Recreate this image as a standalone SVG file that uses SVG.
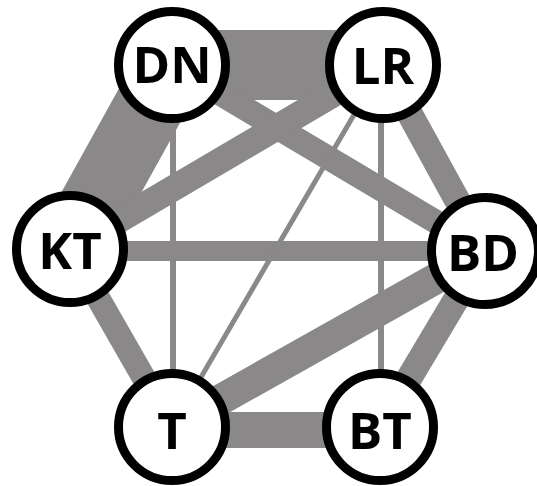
<svg xmlns="http://www.w3.org/2000/svg" width="537" height="486" viewBox="0 0 537 486">
  <style>
    .edge { stroke: #8a8888; fill: none; stroke-linecap: butt; }
    .node circle { fill: #ffffff; stroke: #000000; stroke-width: 9; }
    .node text { font-family: "Open Sans", "Liberation Sans", sans-serif; font-weight: 700; font-size: 51px; fill: #000000; text-anchor: middle; }
  </style>
  <rect width="537" height="486" fill="#ffffff"/>
  <g id="connectors">
    <line class="edge" x1="172" y1="65" x2="383" y2="65" stroke-width="70"/>
    <line class="edge" x1="172" y1="65" x2="70" y2="249" stroke-width="70"/>
    <line class="edge" x1="383" y1="65" x2="485" y2="251" stroke-width="26"/>
    <line class="edge" x1="70" y1="249" x2="172" y2="427" stroke-width="24"/>
    <line class="edge" x1="485" y1="251" x2="380" y2="427" stroke-width="26"/>
    <line class="edge" x1="172" y1="430" x2="380" y2="430" stroke-width="36"/>
    <line class="edge" x1="70" y1="251" x2="485" y2="251" stroke-width="20"/>
    <line class="edge" x1="172" y1="65" x2="485" y2="251" stroke-width="24"/>
    <line class="edge" x1="383" y1="65" x2="70" y2="249" stroke-width="26"/>
    <line class="edge" x1="172" y1="427" x2="485" y2="251" stroke-width="31"/>
    <line class="edge" x1="173" y1="65" x2="173" y2="427" stroke-width="6"/>
    <line class="edge" x1="381" y1="65" x2="381" y2="427" stroke-width="6"/>
    <line class="edge" x1="383" y1="65" x2="172" y2="427" stroke-width="5"/>
  </g>
  <g id="DN" class="node">
    <circle cx="172" cy="65" r="53.5"/>
    <text x="172" y="83">DN</text>
  </g>
  <g id="LR" class="node">
    <circle cx="383" cy="65" r="53.5"/>
    <text x="383" y="84">LR</text>
  </g>
  <g id="KT" class="node">
    <circle cx="70" cy="249" r="53.5"/>
    <text x="70" y="269">KT</text>
  </g>
  <g id="BD" class="node">
    <circle cx="485" cy="251" r="53.5"/>
    <text x="483" y="271">BD</text>
  </g>
  <g id="T" class="node">
    <circle cx="172" cy="427" r="53.5"/>
    <text x="172" y="449">T</text>
  </g>
  <g id="BT" class="node">
    <circle cx="380" cy="427" r="53.5"/>
    <text x="380" y="449">BT</text>
  </g>
</svg>
